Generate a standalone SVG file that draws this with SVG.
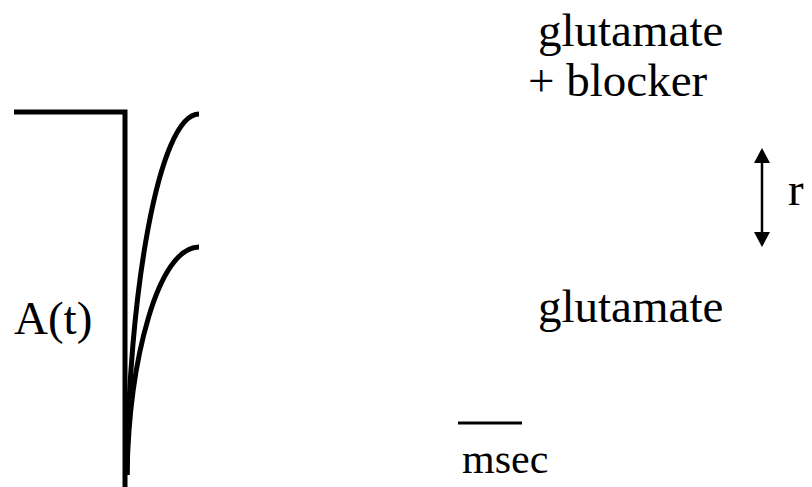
<svg xmlns="http://www.w3.org/2000/svg" width="812" height="487" viewBox="0 0 812 487">
<style>
.t{font-family:"Liberation Serif","Times New Roman",Times,"DejaVu Serif","Noto Serif",serif;font-size:47px;fill:#000}
.trace{fill:none;stroke:#000;stroke-width:5}
</style>
<rect width="812" height="487" fill="#fff"/>
<g id="traces">
<path class="trace" d="M14,112 H125 V487"/>
<path class="trace" d="M127,475 C128,300 158,114 199,114"/>
<path class="trace" d="M127,475 C129,360 158,247 199,247"/>
</g>
<g id="connectors">
<line x1="762" y1="163" x2="762" y2="232" stroke="#000" stroke-width="2.5"/>
<path d="M762,148 L754,163 L770,163 z" fill="#000"/>
<path d="M762,247 L754,232 L770,232 z" fill="#000"/>
<line x1="458" y1="423" x2="522" y2="423" stroke="#000" stroke-width="3"/>
</g>
<g id="labels">
<text class="t" x="538" y="46">glutamate</text>
<text class="t" x="528" y="96">+ blocker</text>
<text class="t" x="538" y="322">glutamate</text>
<text class="t" x="788" y="205">r</text>
<text class="t" x="14" y="334">A(t)</text>
<text class="t" x="462" y="473" style="font-size:42px">msec</text>
</g>
</svg>
